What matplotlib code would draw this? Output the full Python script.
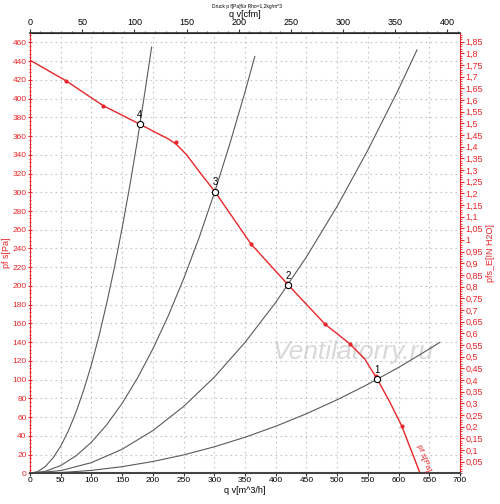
import numpy as np
import matplotlib
matplotlib.use("Agg")
import matplotlib.pyplot as plt
from matplotlib.ticker import MultipleLocator, FixedLocator, FuncFormatter

plt.rcParams['font.family'] = ['Liberation Sans', 'DejaVu Sans']

# fan curve pf s [Pa] over qv [m^3/h]
fan_q = [0, 58.6, 119, 179, 210, 225, 237.7, 255, 276.7, 301, 359.7, 420.5, 480, 521, 545, 565.4, 585, 605, 635]
fan_p = [441, 419, 392.5, 372.6, 362, 357, 351.5, 340, 321, 300.7, 244.8, 201, 159.4, 138, 122, 100.4, 77, 50.8, 0]

# measured points on the fan curve
meas_q = [58.6, 119, 237.7, 359.7, 418, 480, 521, 563, 605]
meas_p = [419, 392.5, 353.4, 244.8, 203, 159.4, 138, 104, 50.8]

# system curves
sys4_q = [0, 12.5, 25, 37.5, 50, 62.5, 75, 87.5, 100, 112.5, 125, 137.5, 150, 162.5, 175, 187.5, 198]
sys4_p = [0, 1.8, 7.3, 16.4, 29, 45.4, 65.4, 89, 116, 147, 182, 220, 262, 307, 356, 409, 455]
sys3_q = [0, 25, 50, 75, 100, 125, 150, 175, 200, 225, 250, 275, 300, 325, 350, 366]
sys3_p = [0, 2.1, 8.3, 18.7, 33.2, 51.9, 74.7, 101.7, 132.8, 168, 207.5, 251, 299, 351, 407, 445]
sys2_q = [0, 50, 100, 150, 200, 250, 300, 350, 400, 450, 500, 550, 600, 630]
sys2_p = [0, 2.85, 11.4, 25.7, 45.6, 71.3, 102.6, 139.7, 182.4, 231, 285, 345, 410, 452]
sys1_q = [0, 50, 100, 150, 200, 250, 300, 350, 400, 450, 500, 550, 600, 650, 667]
sys1_p = [0, 0.8, 3.1, 7.1, 12.6, 19.6, 28.3, 38.5, 50.2, 63.6, 78.5, 95, 113, 132.7, 139.7]

# operating points
op_labels = ['1', '2', '3', '4']
op_q = [565.4, 420.5, 301, 179]
op_p = [100.4, 201, 300.7, 372.6]

PA_PER_INH2O = 249.089
M3H_PER_CFM = 1.699

red = '#e8262a'
sys_color = '#5a5a5a'

fig = plt.figure(figsize=(5, 5.04), dpi=100)
ax = fig.add_axes([0.06, 0.0609, 0.86, 0.8736])

ax.set_xlim(0, 700)
ax.set_ylim(0, 470)

ax.xaxis.set_major_locator(MultipleLocator(50))
ax.yaxis.set_major_locator(FixedLocator(np.arange(0, 461, 20)))
ax.yaxis.set_minor_locator(MultipleLocator(4))
ax.grid(True, color='#c4c4c4', linestyle=(0, (1.5, 3)), linewidth=0.8)
ax.set_axisbelow(True)

ax.tick_params(axis='x', labelsize=6, length=2, color='#333333', pad=1)
ax.tick_params(axis='y', which='major', labelsize=6, length=3, colors=red, pad=1,
               direction='inout')
ax.tick_params(axis='y', which='minor', length=2, color=red, direction='inout')

ax.spines['left'].set_color(red)
ax.spines['bottom'].set_color('#444444')
ax.spines['bottom'].set_linewidth(1.5)
ax.spines['top'].set_color('#333333')
ax.spines['top'].set_linewidth(1.2)
ax.spines['right'].set_visible(False)

for q, p in [(sys4_q, sys4_p), (sys3_q, sys3_p), (sys2_q, sys2_p), (sys1_q, sys1_p)]:
    ax.plot(q, p, color=sys_color, linewidth=0.8)

ax.plot(fan_q, fan_p, color=red, linewidth=1)
ax.plot(meas_q, meas_p, 'o', color=red, markersize=3, markeredgewidth=0)

ax.plot(op_q, op_p, 'o', markerfacecolor='white', markeredgecolor='black',
        markersize=4.5, markeredgewidth=0.8)
for lab, q, p in zip(op_labels, op_q, op_p):
    ax.annotate(lab, (q, p), xytext=(0, 3), textcoords='offset points',
                ha='center', va='bottom', fontsize=7)

ax.text(640, 16, 'pf s[Pa]', color=red, fontsize=6, rotation=-69,
        ha='center', va='center')

ax.text(526, 130, 'Ventilatorry.ru', fontsize=19, style='italic',
        color='#d2d2d2', alpha=0.85, ha='center', va='center', zorder=0.5)

ax.set_xlabel('q v[m^3/h]', fontsize=6.5, labelpad=1)
ax.set_ylabel('pf s[Pa]', fontsize=6.5, color=red, labelpad=1)

# top axis in cfm
top = ax.secondary_xaxis('top', functions=(lambda x: x / M3H_PER_CFM,
                                           lambda x: x * M3H_PER_CFM))
top.xaxis.set_major_locator(FixedLocator(np.arange(0, 401, 50)))
top.xaxis.set_minor_locator(FixedLocator(np.arange(0, 411, 10)))
top.tick_params(which='major', labelsize=6.5, length=3, pad=1, color='#333333')
top.tick_params(which='minor', length=1.5, color='#333333')
top.set_xlabel('q v[cfm]', fontsize=6.5, labelpad=1)

# right axis in inH2O
right = ax.secondary_yaxis('right', functions=(lambda y: y / PA_PER_INH2O,
                                               lambda y: y * PA_PER_INH2O))
right.yaxis.set_major_locator(FixedLocator(np.arange(0.05, 1.86, 0.05)))
right.yaxis.set_minor_locator(MultipleLocator(0.01))


def comma_fmt(v, pos):
    s = f"{v:.2f}".rstrip('0').rstrip('.')
    return s.replace('.', ',')


right.yaxis.set_major_formatter(FuncFormatter(comma_fmt))
right.tick_params(which='major', labelsize=6.5, length=3, colors=red, pad=1)
right.tick_params(which='minor', length=1.5, color=red)
right.spines['right'].set_color(red)
right.set_ylabel('pfs_E[IN H2O]', fontsize=6.5, color=red, labelpad=2)

fig.text(0.494, 0.988, 'Druck p f[Pa]für Rho=1,2kg/m^3', fontsize=3.5,
         ha='center', va='center')

fig.savefig('out.png', dpi=100)
